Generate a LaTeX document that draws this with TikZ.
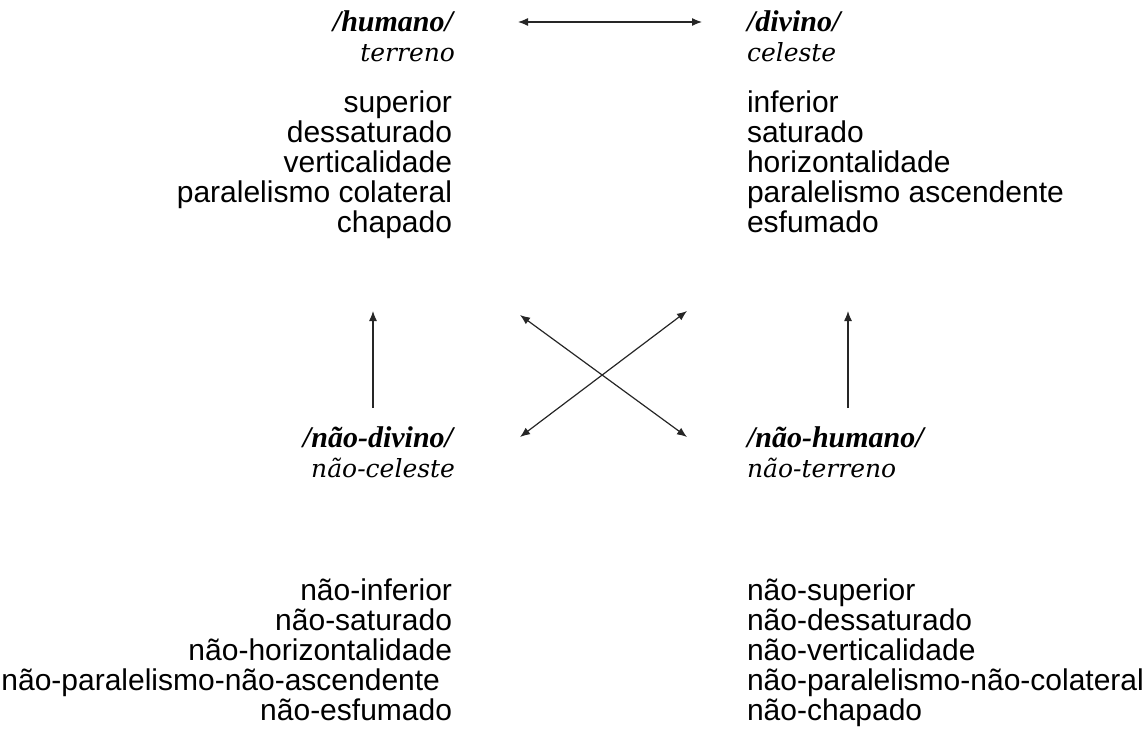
\documentclass[tikz,border=0pt]{standalone}
\usepackage{fontspec}
\newfontfamily\bodyfont{Liberation Sans}
\newfontfamily\headfont{Liberation Serif}
\newfontfamily\glossfont{DejaVu Serif}
\usetikzlibrary{arrows.meta}
\begin{document}
\begin{tikzpicture}[x=1pt,y=-1pt,
  every node/.style={inner sep=0pt, outer sep=0pt},
  term/.style={font=\headfont\fontsize{30}{36}\selectfont\bfseries\itshape},
  gloss/.style={font=\glossfont\fontsize{25}{30}\selectfont\itshape},
  feat/.style={font=\bodyfont\fontsize{30}{30}\selectfont},
  tip/.tip={Latex[length=10pt,width=8pt]},
  rel/.style={line width=1.2pt, draw=black!85, tip-tip},
  imp/.style={line width=1.2pt, draw=black!85, -tip}]
\useasboundingbox (0,0) rectangle (1142,728);

% upper pair of terms
\node[term,  anchor=base east] (hum)  at (453,31) {/humano/};
\node[gloss, anchor=base east] (humg) at (455,61) {terreno};
\node[term,  anchor=base west] (div)  at (747,31) {/divino/};
\node[gloss, anchor=base west] (divg) at (747,61) {celeste};

% their features
\foreach \t [count=\i] in {superior, dessaturado, verticalidade, paralelismo colateral, chapado}
  \node[feat, anchor=base east] (humf\i) at (452,{112+30*(\i-1)}) {\t};
\foreach \t [count=\i] in {inferior, saturado, horizontalidade, paralelismo ascendente, esfumado}
  \node[feat, anchor=base west] (divf\i) at (747,{112+30*(\i-1)}) {\t};

% lower pair of terms
\node[term,  anchor=base east] (ndiv)  at (453,447) {/não-divino/};
\node[gloss, anchor=base east] (ndivg) at (455,477) {não-celeste};
\node[term,  anchor=base west] (nhum)  at (747,447) {/não-humano/};
\node[gloss, anchor=base west] (nhumg) at (747,477) {não-terreno};

% their features
\foreach \t/\xe [count=\i] in {não-inferior/452, não-saturado/452, não-horizontalidade/452,
    não-paralelismo-não-ascendente/440, não-esfumado/452}
  \node[feat, anchor=base east] (ndivf\i) at (\xe,{600+30*(\i-1)}) {\t};
\foreach \t [count=\i] in {não-superior, não-dessaturado, não-verticalidade, não-paralelismo-não-colateral, não-chapado}
  \node[feat, anchor=base west] (nhumf\i) at (747,{600+30*(\i-1)}) {\t};

% arrow ends
\coordinate (hd) at (518,22);
\coordinate (dh) at (702,22);
\coordinate (up1a) at (373,408);
\coordinate (up1b) at (373,311);
\coordinate (up2a) at (848,408);
\coordinate (up2b) at (848,311);
\coordinate (xa) at (520,315);
\coordinate (xb) at (687,437);
\coordinate (xc) at (520,437);
\coordinate (xd) at (687,311);

% relations
\draw[rel] (hd) -- (dh);
\draw[imp] (up1a) -- (up1b);
\draw[imp] (up2a) -- (up2b);
\draw[rel] (xa) -- (xb);
\draw[rel] (xc) -- (xd);
\end{tikzpicture}
\end{document}
